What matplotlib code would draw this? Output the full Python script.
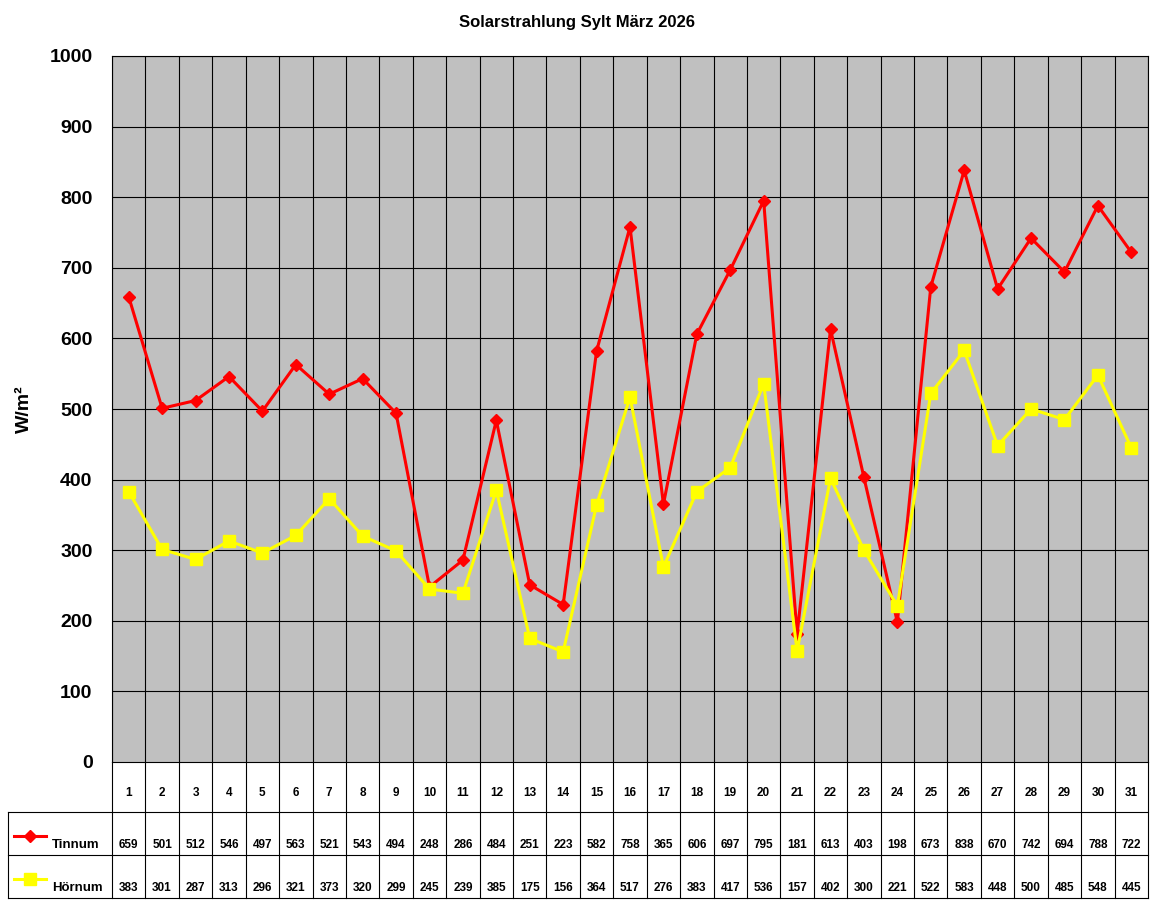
import numpy as np
import matplotlib
matplotlib.use("Agg")
import matplotlib.pyplot as plt
from matplotlib.transforms import blended_transform_factory
from matplotlib.lines import Line2D

days = list(range(1, 32))
tinnum = [659, 501, 512, 546, 497, 563, 521, 543, 494, 248, 286, 484, 251, 223, 582, 758,
          365, 606, 697, 795, 181, 613, 403, 198, 673, 838, 670, 742, 694, 788, 722]
hoernum = [383, 301, 287, 313, 296, 321, 373, 320, 299, 245, 239, 385, 175, 156, 364, 517,
           276, 383, 417, 536, 157, 402, 300, 221, 522, 583, 448, 500, 485, 548, 445]
series = [("Tinnum", tinnum, "#FF0000", "D", 6), ("Hörnum", hoernum, "#FFFF00", "s", 9)]

plt.rcParams['font.family'] = ['Arial', 'Liberation Sans', 'DejaVu Sans']
fig = plt.figure(figsize=(11.52, 9), dpi=100)
H = 900.0
ax = fig.add_axes([112/1152, (H-762)/H, (1148-112)/1152, (762-56)/H])
ax.set_facecolor("#C0C0C0")
for name, vals, col, mk, ms in series:
    ax.plot(days, vals, color=col, marker=mk, markersize=ms, linewidth=2.2, zorder=3)
ax.set_xlim(0.5, 31.5)
ax.set_ylim(0, 1000)
ax.set_yticks(range(0, 1001, 100))
ax.set_yticklabels([str(v) for v in range(0, 1001, 100)], fontsize=14, fontweight='bold')
ax.set_xticks([])
for k in range(32):
    ax.axvline(k + 0.5, color='black', linewidth=0.8, zorder=1)
for v in range(100, 1001, 100):
    ax.axhline(v, color='black', linewidth=0.8, zorder=1)
ax.tick_params(axis='y', length=0, pad=14)
ax.set_ylabel("W/m²", fontsize=14, fontweight='bold', labelpad=12)
fig.text(577/1152, 1 - 22/H, "Solarstrahlung Sylt März 2026", ha='center', va='center',
         fontsize=12, fontweight='bold')

# data table below axes
tr = blended_transform_factory(ax.transData, fig.transFigure)
def fy(p):
    return 1 - p / H
for d in days:
    fig.text(d, fy(793), str(d), transform=tr, ha='center', va='center', fontsize=8.5, fontweight='bold')
for k in range(32):
    fig.add_artist(Line2D([k + 0.5, k + 0.5], [fy(762), fy(898)], transform=tr, color='black', lw=0.8))
for yp in (812, 855, 898):
    fig.add_artist(Line2D([8/1152, 1148/1152], [fy(yp), fy(yp)], color='black', lw=0.8))
fig.add_artist(Line2D([8/1152, 8/1152], [fy(812), fy(898)], color='black', lw=0.8))
for i, (name, vals, col, mk, ms) in enumerate(series):
    yc = fy(836 + 43 * i)
    fig.add_artist(Line2D([14/1152, 30/1152, 46/1152], [yc] * 3, color=col, lw=2.2,
                          marker=mk, markersize=ms, markevery=[1]))
    fig.text(52/1152, fy(845 + 43 * i), name, ha='left', va='center', fontsize=9.5, fontweight='bold')
    for d, v in zip(days, vals):
        fig.text(d, fy(845 + 43 * i), str(v), transform=tr, ha='center', va='center',
                 fontsize=8.5, fontweight='bold')

fig.savefig("out.png", dpi=100)
